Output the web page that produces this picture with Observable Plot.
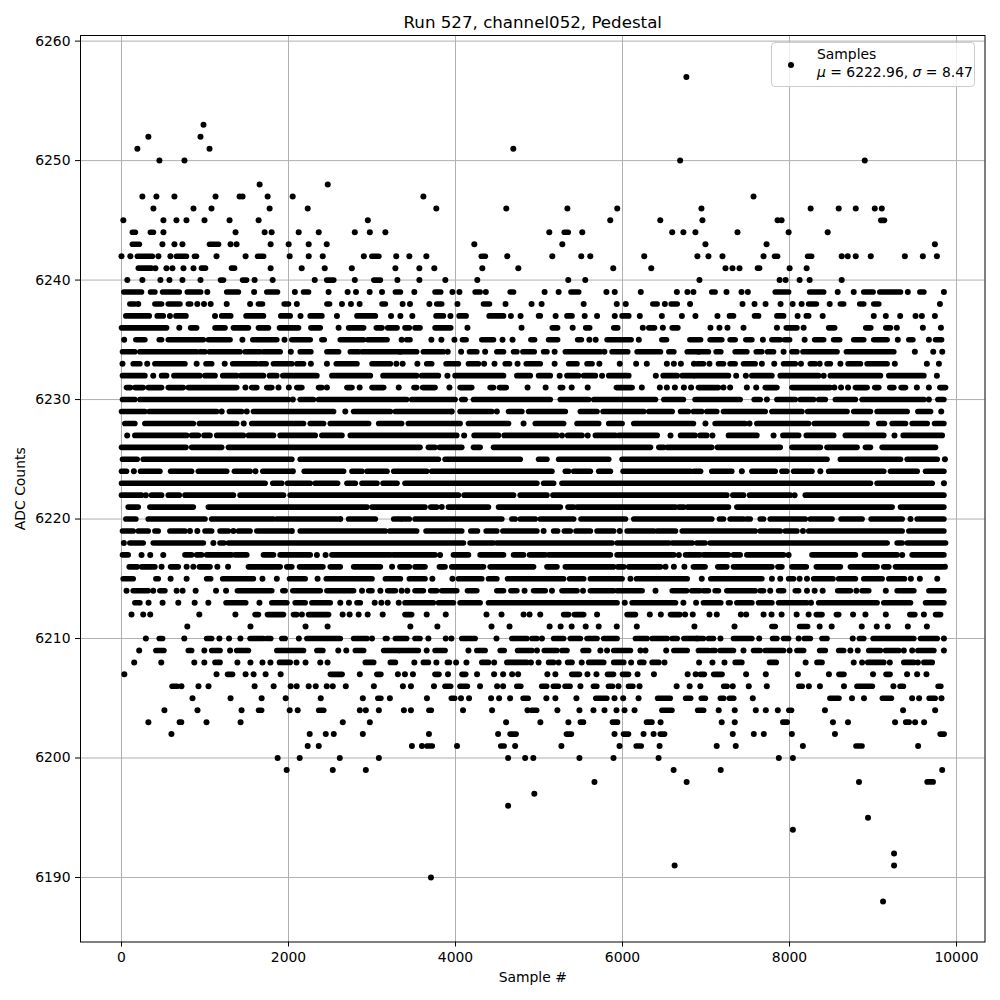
<!DOCTYPE html>
<html><head><meta charset="utf-8">
<script src="https://cdn.jsdelivr.net/npm/d3@7"></script>
<script src="https://cdn.jsdelivr.net/npm/@observablehq/plot@0.6"></script>
<style>
html,body{margin:0;padding:0;background:#fff}
#wrap{position:relative;width:1000px;height:1000px;font-family:"DejaVu Sans",sans-serif;color:#000}
#legend{position:absolute;left:771px;top:42px;width:204px;height:45px;box-sizing:border-box;background:rgba(255,255,255,.8);border:1px solid #ccc;border-radius:4px;font-size:13.9px;line-height:18px}
#legend .t{position:absolute;left:45px;top:2px;white-space:nowrap}
#legend .k{position:absolute;left:16px;top:19px;width:6.4px;height:6.4px;border-radius:50%;background:#000}
</style></head><body><div id="wrap"></div>
<script>
const titleText="Run 527, channel052, Pedestal", xLabel="Sample #", yLabel="ADC Counts";
const xTicks=[0,2000,4000,6000,8000,10000];
const yTicks=[6190,6200,6210,6220,6230,6240,6250,6260];
// Each row is one ADC value. A number is one sample; [a,b] is a run of touching samples.
const r6257=[6765];
const r6253=[982];
const r6252=[322,946];
const r6251=[190,1054,4692];
const r6250=[454,754,6690,8901];
const r6248=[1654,2470];
const r6247=[250,418,634,1126,1414,1450,1750,2050,3615,7569];
const r6246=[382,862,1078,1774,2230,3770,4608,5340,5937,6945,8253,8589,8793,9021,9105];
const r6245=[22,502,658,778,994,1294,1642,2950,5853,6452,6957,7857,7905,[9093,9137]];
const r6244=[[130,166],[346,382],502,1366,1714,1798,2122,2362,2794,2974,3160,5123,[5302,5350],5518,6595,6729,6873,7377,7989,8457];
const r6243=[[130,214],490,634,730,[1054,1162],1306,1378,1786,2002,2242,2458,4225,5279,6993,7725,9741];
const r6242=[0,106,[190,370],442,586,[658,778],[874,898],1138,1486,[1630,1702],2014,2242,2410,2902,[2998,3082],3290,3447,3651,[4309,4357],4620,5159,5506,5614,6260,6897,7029,7197,7689,[7821,7857],[8217,8265],8625,8697,8793,8973,9381,9597,9765];
const r6241=[[202,358],406,538,610,742,862,[958,1006],[1318,1354],1786,2158,2434,2758,3280,3567,3746,4321,4752,5889,6344,7233,7317,7401,[7617,7641],8001,8205];
const r6240=[70,250,466,574,730,946,[1186,1222],[1450,1498],1594,1810,2314,[2458,2542],2794,[3022,3100],3304,3567,3878,4261,5350,5554,6921,7881,7953,8121,8241,8625];
const r6239=[[28,240],[348,400],[492,692],[788,948],1028,[1260,1400],1588,[1740,1868],2076,[2180,2240],2480,2708,2808,2972,3120,[3280,3340],3507,[3755,3823],3963,4047,[4235,4295],4363,[4655,4695],5067,5235,[5383,5475],5807,5907,6219,6651,6777,6849,[7069,7109],7245,7425,7501,[7829,7989],[8241,8409],8577,8769,[8889,9001],[9081,9329],9417,[9561,9609],9849];
const r6238=[[100,160],200,[400,480],[560,700],[800,828],908,988,1068,1260,1540,[1640,1688],[1948,2000],2100,[2460,2492],2640,2748,2852,[3120,3160],3367,3455,3687,[3775,3835],4023,[4335,4407],4599,4911,5031,5535,5931,6039,[6363,6415],6507,[6583,6655],6809,7437,7581,7713,7893,8037,8145,[8229,8321],8481,[8609,8649],[8841,8889],[9009,9069],9801];
const r6237=[[52,332],[428,500],580,[652,772],1120,[1200,1308],[1492,1700],[1908,2020],2144,[2260,2400],2580,[2820,3040],3228,3340,3483,[3767,3855],3939,[4043,4127],[4403,4575],4663,4779,[4995,5015],5199,[5335,5395],5547,5695,5907,[5995,6075],6207,6471,6711,6873,7137,[7281,7329],[7581,7629],[7849,7929],8097,[8201,8229],8397,9009,9153,9325,9509,9585,9741];
const r6236=[[0,540],692,[828,900],[1120,1240],[1340,1520],[1640,1760],[1892,2120],[2268,2380],2600,[2720,2900],[3052,3120],[3188,3300],[3395,3447],[3515,3575],[3755,3943],4143,4791,[5159,5223],5403,[5559,5607],[5895,5943],6243,[6315,6383],6483,[6595,6663],7053,7161,7257,7449,7849,[7961,8089],8169,[8469,8541],[8913,8973],[9153,9209],9285,9597,9813];
const r6235=[32,[172,280],[452,480],[560,980],[1040,1300],1448,[1572,1860],1952,[2040,2260],[2400,2428],[2620,2900],[2948,3180],3355,[3415,3455],3711,3831,3987,[4083,4127],[4315,4455],4563,4683,[4903,4947],[5115,5223],[5463,5507],5603,5679,[5815,6103],6195,[6471,6527],[6807,6935],[7049,7189],[7289,7349],[7477,7549],7681,[7789,7889],[7941,8001],8181,[8301,8409],[8529,8601],[8769,8889],[9009,9169],9297,[9429,9477],9669,[9749,9821]];
const r6234=[[12,160],[220,900],[940,1000],[1052,1420],[1480,1660],[1700,1900],2028,[2140,2268],[2460,2600],[2740,2840],[2880,3340],[3335,3535],[3615,3855],3907,4067,[4167,4255],4355,[4495,4575],[4695,4735],[4807,4943],[5055,5095],5187,[5315,5735],5783,[5875,6063],[6175,6455],[6555,6615],[6775,6915],[6909,7029],[7121,7177],[7349,7489],[7601,7669],[7737,7809],7929,[8029,8089],[8161,8569],[8681,9249],9501,9721,9829];
const r6233=[12,[140,220],308,[400,760],900,[1012,1080],1236,[1332,1620],[1660,1732],[1820,2040],[2100,2180],2268,2460,[2572,2820],[3000,3220],3292,3367,3543,[3655,3715],[3887,4035],[4155,4275],4343,4467,[4595,4647],4743,[4847,5015],5187,[5355,5455],[5575,5635],5723,5967,6163,6291,6531,6615,6699,6855,[6897,6969],7041,[7149,7209],[7289,7349],[7449,7589],7669,7817,[7929,8069],8137,[8249,8309],8361,[8449,8489],8609,[8701,8849],[8929,9169],9261,9645,9789];
const r6232=[[12,280],380,[480,540],[628,940],[1000,1120],[1212,1380],[1428,1700],[1772,1860],[1932,2340],[2520,2980],[3132,3535],[3595,3795],3903,[3995,4575],[4735,4895],[4995,5135],5247,[5335,5475],[5535,5675],5755,[5835,6075],6399,[6487,6655],[6715,6849],[6869,7269],7361,7477,[7549,7789],[7889,8349],8409,[8489,9089],[9189,9609],9765];
const r6231=[[60,108],[160,260],[320,480],[560,740],[800,1380],1484,[1560,1620],[1740,1800],1880,2004,[2100,2160],[2360,2400],2460,[2700,2760],2852,[3000,3140],3320,[3503,3535],[3607,3755],3927,[4055,4195],[4415,4455],[4527,4607],4863,5079,[5255,5283],5391,5583,[5927,6115],6231,6447,6531,6627,6735,6821,[6909,7149],7209,7289,7489,7601,[7709,7849],[8029,8489],8537,8617,8701,[8789,8929],[9021,9069],[9201,9249],[9337,9389],9525,9669,[9801,9869]];
const r6230=[[12,160],[220,2000],2052,[2140,2300],[2360,3415],[3475,3995],[4075,4115],[4215,5135],[5255,5595],[5655,6395],[6495,6729],[6869,7409],[7577,7649],7729,[7849,8069],[8129,8289],[8349,8429],[8549,8789],[8869,9609],9669,[9777,9849]];
const r6229=[[0,280],[332,1140],1200,[1292,1440],1500,[1580,2540],2680,[2780,3220],[3280,3935],3955,[4055,4435],4495,[4635,4795],[4875,5315],[5495,5695],[5767,6255],[6315,6595],[6695,6789],[6849,6949],[7009,7129],[7209,7709],[7789,8149],[8217,8689],[8769,8969],[9049,9409],[9537,9689],9817];
const r6228=[[40,160],[280,860],[932,1380],1464,[1560,2180],[2260,2420],[2500,2960],[3080,3355],[3435,4055],[4155,4635],4815,[4955,5295],[5455,5715],[5835,5995],[6135,6849],6993,[7109,7469],7521,[7609,8229],[8297,8929],[9069,9137],[9229,9389],[9469,9649],[9737,9849]];
const r6227=[68,[160,780],[840,920],[988,1060],[1140,1460],[1520,1820],[1900,2320],[2400,2640],[2740,4015],4103,[4223,4515],[4583,5215],5275,[5343,5515],5583,[5675,5915],[5955,6415],6575,[6695,6869],[6929,7009],7077,[7269,7609],7809,[7921,8109],[8201,8529],[8669,9129],9257,[9361,9829]];
const r6226=[[0,772],[840,1200],[1280,3575],[3675,3755],[3807,4075],[4215,4295],[4455,6335],[6435,6495],[6535,7069],[7137,7889],[8029,8369],[8449,8809],[8909,8969],[9109,9749]];
const r6225=[[12,188],[260,2040],[2140,3795],[3875,4775],[4995,5095],[5235,5835],[5995,8449],[8609,9329],[9409,9769],9861];
const r6224=[[0,60],148,[228,460],[588,840],[920,1260],[1352,1540],1604,[1692,2020],2052,[2188,2660],[2760,2880],[2940,3180],[3260,3655],[3715,5155],[5315,5355],[5415,5615],[5715,5855],[6007,6815],[6855,6935],[7069,7309],7429,[7549,7829],[7909,7969],[8049,8269],8369,[8469,9129],[9209,9529],[9629,9849]];
const r6223=[[0,1720],[1812,1920],[1988,2260],[2320,2588],[2700,2800],[2880,3060],[3132,3300],[3395,4975],[5055,5175],[5275,8969],[9049,9709],9849];
const r6222=[[0,240],292,[360,480],[560,692],[760,1340],[1420,1940],[2020,4035],[4103,4695],[4775,5095],[5167,7249],[7321,7449],[7521,8009],8061,[8189,9849]];
const r6221=[[80,200],[340,860],[1040,2940],[3000,3635],[3703,3775],3835,[3915,4395],[4515,5255],[5347,5415],[5455,6635],[6675,6735],[6777,7269],[7369,9229],[9329,9849]];
const r6220=[[52,172],[320,1000],[1080,1820],[1860,2580],2620,[2720,3040],[3260,3340],[3367,3447],[3515,4555],[4675,4715],[4775,4955],[5015,5415],[5503,6035],[6135,7069],[7161,7209],[7289,7449],[7489,7529],[7649,7689],[7769,8189],[8249,8509],[8617,8869],[8977,9349],9449,[9529,9849]];
const r6219=[[12,140],[200,320],[400,440],[580,760],820,908,[1000,1080],[1180,1280],1340,[1400,1540],[1620,2000],2040,[2140,3160],[3212,3535],[3647,4075],[4183,4263],[4367,4495],[4567,4975],5055,[5175,5223],[5303,5375],[5443,5615],[5695,5895],5967,[6055,6375],[6415,6635],[6715,7589],[7649,7889],[7949,8089],8161,[8229,9349],[9429,9849]];
const r6218=[28,[100,260],[380,980],1100,[1180,1228],[1280,4095],[4175,4455],[4495,5875],[5935,6555],[6595,6835],[6889,6989],[7049,9169],[9289,9349],[9409,9869]];
const r6217=[[12,80],240,344,500,[760,840],[900,960],[1020,1320],[1360,1500],[1700,1820],[1900,2260],2340,2444,[2520,3220],[3252,3755],3815,[3975,4155],[4295,4575],[4695,4815],[4887,5075],[5115,5855],[5935,6615],6675,[6755,6929],[6969,7269],[7329,7409],[7489,7929],7989,[8269,8789],[8897,9289],9349,[9469,9849]];
const r6216=[[92,188],[240,400],480,[588,680],780,860,[932,1060],1148,1276,[1520,1900],[1980,2040],[2132,2412],[2500,2620],[2780,3100],3240,[3335,3447],[3515,3635],[3807,3875],[3955,4335],[4415,4935],[5095,5215],[5315,5895],[5943,6015],[6075,6455],6515,6615,6741,[6849,6989],[7141,7249],[7329,7789],[7861,7909],[8029,8201],[8321,8609],[8729,9049],[9129,9189],[9269,9829],9861];
const r6215=[[20,140],[412,440],588,780,[1020,1068],[1212,1580],1688,1860,[2012,2200],2348,[2452,3000],[3160,3340],[3447,3635],3723,3963,[4035,4315],[4395,4495],[4623,5295],[5367,5535],[5615,5995],6095,[6167,6775],6949,[7057,7669],7789,7889,[7989,8049],8121,8209,[8289,8521],[8589,8789],[8889,9109],[9189,9377],9453,9561,9769];
const r6214=[60,[140,320],380,[460,520],660,732,888,1132,1252,[1388,1800],[1932,1960],[2052,2380],[2460,2780],2880,[2960,3000],3100,[3188,3280],3355,3423,[3515,3615],[3703,3775],[3835,4015],[4143,4255],[4495,4575],[4663,4735],4827,[4935,5075],5155,[5275,5455],5527,[5615,5895],[5935,6235],6395,[6595,6769],[6829,6929],[6969,7029],[7109,7149],[7249,7589],[7649,7689],7769,[7869,7929],[8069,8109],8209,8301,8397,[8577,8729],8801,[8869,8949],9153,[9289,9489],[9669,9849]];
const r6213=[[160,220],324,492,680,876,1040,[1252,1488],1652,[1800,1980],[2080,2200],[2280,2500],2620,2724,[2820,2860],3032,3112,3188,3320,[3395,3735],[3795,3975],[4055,4295],[4395,5935],6027,[6115,6635],6729,6881,[6969,7177],[7269,7289],[7369,7549],[7629,7789],[7869,8209],8257,[8349,9049],[9129,9449],[9629,9849]];
const r6212=[120,260,344,932,1364,[1600,1640],[1748,1940],[2060,2100],2160,[2240,2480],2648,2732,2840,2948,3128,[3395,3475],3655,3883,4371,4551,4815,4887,5015,[5295,5355],[5423,5535],5695,[6055,6155],6327,6459,[6575,6687],6749,6841,7041,7129,7417,7481,7689,7785,7905,8085,8229,[8321,8389],[8561,8589],8761,8909,9153,[9441,9501],9609,[9749,9809]];
const r6211=[788,1544,2204,2468,3459,3783,4431,4647,5127,5259,5391,5559,5715,5931,6171,6861,7341,[7789,7829],[8121,8217],8361,8505,8865,9045,9177,9417,9645];
const r6210=[292,[452,492],752,[1020,1080],1172,1288,1424,[1540,1700],[1740,1788],[1920,1960],2124,[2220,2620],[2780,2940],3000,[3160,3180],[3280,3415],[3515,3575],3675,3883,3951,[4075,4235],4491,[4675,4855],[4915,4975],5035,[5175,5295],[5375,5495],[5575,5695],[5775,5935],[6155,6295],[6355,6535],[6595,6655],[6735,6895],[6889,6969],[7029,7089],7173,[7329,7549],7637,[7797,7849],[7929,7989],8109,[8177,8249],[8389,8449],8757,[8837,8889],[9001,9489],[9569,9769],9849];
const r6209=[212,[412,508],[800,840],992,[1080,1180],1300,[1380,1520],[1860,2180],[2340,2412],2596,2692,[2800,2900],[3140,3320],[3335,3555],3655,[3755,3875],4155,[4255,4355],[4535,4583],[4743,4915],4975,[5063,5215],[5275,5335],[5527,5595],5735,5815,[5895,6095],6215,6275,6523,[6615,6775],[6909,7029],[7069,7109],[7169,7329],7449,[7569,7649],[7709,7929],8001,[8089,8169],[8361,8429],[8589,8649],8729,8817,[8949,9089],[9149,9309],9369,9469,[9537,9729],9849];
const r6208=[152,476,872,992,[1120,1180],1388,1544,1688,1784,[1892,2020],2096,2204,2380,2468,[2920,3020],[3220,3280],3507,[3615,3675],3771,[3903,3927],4007,4131,[4315,4395],4463,[4615,4855],4903,4995,[5115,5175],5235,[5343,5395],5511,[5595,5775],[5895,6015],6103,[6207,6255],[6355,6435],6503,6917,7077,7221,[7349,7429],[7761,7841],8193,[8329,8389],8769,8869,[8937,9129],9201,[9369,9489],9537,[9609,9709]];
const r6207=[34,1138,[1270,1330],1486,1582,1726,1906,[2502,2642],2854,[3058,3106],3310,3394,3490,[3754,3802],3910,[4078,4122],4258,4462,4570,4678,4750,5100,5196,[5392,5484],5580,5688,[5820,5892],[6000,6072],6180,6376,6780,6876,[6932,6980],[7092,7192],7480,7716,8100,8472,[8592,8652],9000,[9156,9204],9408,9528,9640];
const r6206=[[606,666],718,922,1042,1594,1822,2026,2098,2242,2326,2458,2530,2686,3022,3370,3466,3742,[3874,3942],[4054,4142],4294,4498,4570,[4734,4782],[5032,5092],[5172,5232],[5312,5372],5496,[5652,5692],[5832,5880],5952,[6072,6124],6204,6648,6804,6932,[7212,7252],7320,7512,7728,[8112,8152],8232,8364,8652,[8808,8992],9244,[9324,9364],[9780,9812]];
const r6205=[850,1306,1678,1966,2386,2890,[3070,3106],3214,3658,[3950,3990],4066,4162,4426,4522,4654,[4810,4870],5088,5196,5448,[5680,5812],5904,6008,6192,[6420,6572],[6756,6816],[6944,6992],[7172,7212],[7280,7332],7560,[8484,8592],8748,8892,[9112,9220],9468,9552,[9672,9744],9820];
const r6204=[514,910,1438,[1642,1678],2014,2110,[2362,2422],2854,2926,3082,3382,3466,[3682,3710],4090,4438,4862,[4912,4972],5220,5484,5652,5784,5928,6024,6144,[6472,6592],[6900,6972],7152,7344,7596,7716,7860,[7992,8024],8424,9360,9744];
const r6203=[322,[694,718],1018,1426,2650,2974,4606,5016,5352,[5496,5532],[5880,5940],[6288,6352],6456,7188,7344,[7920,7972],8520,8700,9264,[9392,9432],9504,9612];
const r6202=[598,2254,2446,2542,2890,3682,4510,[4654,4726],[5328,5388],5904,[6012,6072],6252,6372,[6452,6504],7320,7572,7692,8028,8544,[9804,9852]];
const r6201=[2230,2362,3478,3598,[3658,3722],4018,[4542,4582],4714,5268,5964,[6164,6224],6444,7128,7356,8160,[8796,8868],9540];
const r6200=[1870,2134,2614,3082,4630,4834,4932,5484,5892,6432,7872,8040];
const r6199=[1978,2530,2926,6612,7176,9828];
const r6198=[5664,6768,8832,[9648,9720]];
const r6197=[4944];
const r6196=[4630];
const r6195=[8940];
const r6194=[8040];
const r6192=[9252];
const r6191=[6624,9252];
const r6190=[3706];
const r6188=[9120];

const rows=[[6257,r6257],[6253,r6253],[6252,r6252],[6251,r6251],[6250,r6250],[6248,r6248],[6247,r6247],[6246,r6246],[6245,r6245],[6244,r6244],[6243,r6243],[6242,r6242],[6241,r6241],[6240,r6240],[6239,r6239],[6238,r6238],[6237,r6237],[6236,r6236],[6235,r6235],[6234,r6234],[6233,r6233],[6232,r6232],[6231,r6231],[6230,r6230],[6229,r6229],[6228,r6228],[6227,r6227],[6226,r6226],[6225,r6225],[6224,r6224],[6223,r6223],[6222,r6222],[6221,r6221],[6220,r6220],[6219,r6219],[6218,r6218],[6217,r6217],[6216,r6216],[6215,r6215],[6214,r6214],[6213,r6213],[6212,r6212],[6211,r6211],[6210,r6210],[6209,r6209],[6208,r6208],[6207,r6207],[6206,r6206],[6205,r6205],[6204,r6204],[6203,r6203],[6202,r6202],[6201,r6201],[6200,r6200],[6199,r6199],[6198,r6198],[6197,r6197],[6196,r6196],[6195,r6195],[6194,r6194],[6192,r6192],[6191,r6191],[6190,r6190],[6188,r6188]];
const singles=[],runs=[];
for(const [adc,list] of rows) for(const v of list){
  if(Array.isArray(v)) runs.push({adc,a:v[0],b:v[1]}); else singles.push({adc,x:v});
}
const plot=Plot.plot({
  width:1000,height:1000,marginLeft:80,marginRight:15.5,marginTop:35,marginBottom:58.5,
  style:{background:"transparent",fontFamily:"'DejaVu Sans',sans-serif",fontSize:"13.9px",color:"#000"},
  x:{domain:[-491,10341]},y:{domain:[6184.6,6260.47]},
  marks:[
    Plot.gridX(xTicks,{stroke:"#b0b0b0",strokeOpacity:1,strokeWidth:1}),
    Plot.gridY(yTicks,{stroke:"#b0b0b0",strokeOpacity:1,strokeWidth:1}),
    Plot.link(runs,{x1:"a",x2:"b",y1:"adc",y2:"adc",stroke:"#000",strokeWidth:5.6,strokeLinecap:"round",strokeOpacity:1}),
    Plot.dot(singles,{x:"x",y:"adc",r:3,fill:"#000"}),
    Plot.frame({stroke:"#000",strokeWidth:1}),
    Plot.axisX(xTicks,{tickFormat:"d",tickSize:5,tickPadding:5,fontSize:13.9,label:xLabel,labelAnchor:"center",labelArrow:"none",labelOffset:40}),
    Plot.axisY(yTicks,{tickFormat:"d",tickSize:5,tickPadding:5,fontSize:13.9,label:yLabel,labelAnchor:"center",labelArrow:"none",labelOffset:65}),
    Plot.text([titleText],{frameAnchor:"top",dy:-19,fontSize:16.67,fill:"#000"})
  ]
});
const wrap=document.getElementById("wrap");
wrap.appendChild(plot);
const lg=document.createElement("div");lg.id="legend";
lg.innerHTML='<span class="k"></span><div class="t">Samples<br><i>μ</i> = 6222.96, <i>σ</i> = 8.47</div>';
wrap.appendChild(lg);
</script></body></html>
